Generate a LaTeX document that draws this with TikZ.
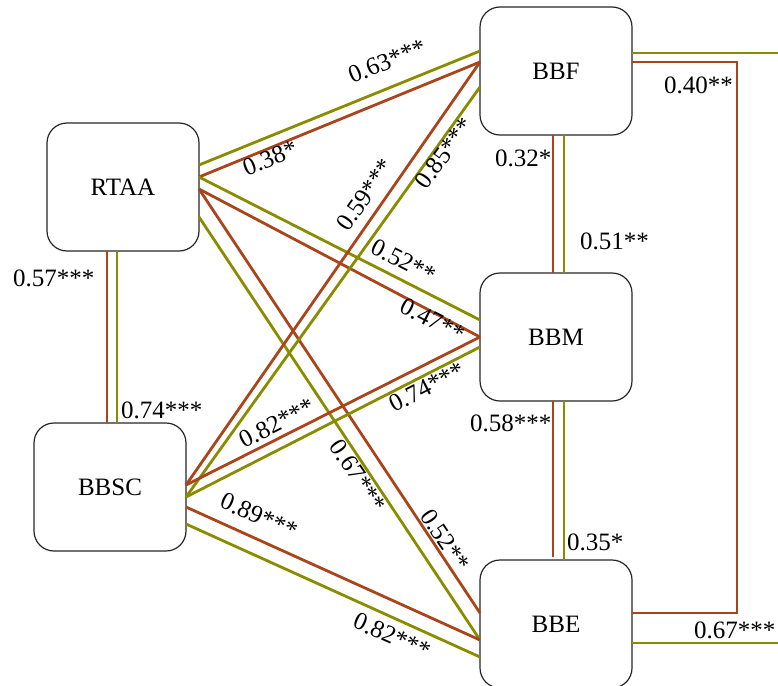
\documentclass[tikz,border=0pt]{standalone}
\usepackage{fontspec}
\setmainfont{Liberation Serif}
\usetikzlibrary{calc}
\definecolor{brn}{RGB}{170,68,26}
\definecolor{olv}{RGB}{138,140,0}
\begin{document}
\begin{tikzpicture}[x=1pt,y=-1pt,
  box/.style={draw=black!85, line width=1.2pt, rounded corners=20pt, minimum width=152pt, minimum height=128pt, inner sep=0pt, outer sep=0pt, fill=white, font=\fontsize{25}{30}\selectfont},
  bl/.style={draw=brn, line width=2.8pt},
  ol/.style={draw=olv, line width=2.8pt},
  lab/.style={font=\fontsize{25}{29}\selectfont, inner sep=0pt},
]
\useasboundingbox (0,0) rectangle (778,685);
% boxes
\node[box] (RTAA) at (123,187) {RTAA};
\node[box] (BBSC) at (110,487) {BBSC};
\node[box] (BBF) at (556,71) {BBF};
\node[box] (BBM) at (556,337) {BBM};
\node[box] (BBE) at (556,624) {BBE};
% diagonal connectors
\draw[ol] ($(RTAA.east)+(0,-22)$) -- ($(BBF.west)+(0,-20)$);
\draw[bl] ($(RTAA.east)+(0,-10)$) -- ($(BBF.west)+(0,-9)$);
\draw[ol] ($(RTAA.east)+(0,-10)$) -- ($(BBM.west)+(0,-17)$);
\draw[bl] ($(RTAA.east)+(0,2)$) -- (BBM.west);
\draw[bl] ($(RTAA.east)+(0,2)$) -- ($(BBE.west)+(0,-11)$);
\draw[ol] ($(RTAA.east)+(0,30)$) -- ($(BBE.west)+(0,16)$);
\draw[bl] ($(BBSC.east)+(0,-2)$) -- ($(BBF.west)+(0,-9)$);
\draw[ol] ($(BBSC.east)+(0,10)$) -- ($(BBF.west)+(0,16)$);
\draw[bl] ($(BBSC.east)+(0,-2)$) -- (BBM.west);
\draw[ol] ($(BBSC.east)+(0,10)$) -- ($(BBM.west)+(0,10)$);
\draw[bl] ($(BBSC.east)+(0,20)$) -- ($(BBE.west)+(0,16)$);
\draw[ol] ($(BBSC.east)+(0,37)$) -- ($(BBE.west)+(0,33)$);
% vertical connectors
\draw[bl] ($(RTAA.south)+(-16,0)$) -- ($(BBSC.north)+(-3,0)$);
\draw[ol] ($(RTAA.south)+(-6,0)$) -- ($(BBSC.north)+(7,0)$);
\draw[bl] ($(BBF.south)+(-3,0)$) -- ($(BBM.north)+(-3,0)$);
\draw[ol] ($(BBF.south)+(8,0)$) -- ($(BBM.north)+(8,0)$);
\draw[bl] ($(BBM.south)+(-3,0)$) -- ($(BBE.north)+(-3,-3)$);
\draw[ol] ($(BBM.south)+(8,0)$) -- ($(BBE.north)+(8,0)$);
% right-hand connectors
\coordinate (E1) at (780,53);
\coordinate (E2) at (780,643);
\draw[ol] ($(BBF.east)+(0,-18)$) -- (E1);
\draw[bl] ($(BBF.east)+(0,-9)$) -| ($(BBE.east)+(105,-11)$) -- ($(BBE.east)+(0,-11)$);
\draw[ol] ($(BBE.east)+(0,19)$) -- (E2);
% rotated labels
\node[lab, rotate=22] (l063) at (387,61) {0.63***};
\node[lab, rotate=22] (l038) at (270,158) {0.38*};
\node[lab, rotate=55] (l059) at (365,195) {0.59***};
\node[lab, rotate=54] (l085) at (444,153) {0.85***};
\node[lab, rotate=-27] (l052a) at (404,261) {0.52**};
\node[lab, rotate=-27] (l047) at (433,320) {0.47**};
\node[lab, rotate=27] (l074b) at (427,387) {0.74***};
\node[lab, rotate=27] (l082a) at (277,423) {0.82***};
\node[lab, rotate=-56] (l067a) at (358,476) {0.67***};
\node[lab, rotate=-56] (l052b) at (445,540) {0.52**};
\node[lab, rotate=-24] (l089) at (259,516) {0.89***};
\node[lab, rotate=-24] (l082b) at (392,636) {0.82***};
% straight labels
\node[lab, anchor=base west] (l057) at (13,286) {0.57***};
\node[lab, anchor=base west] (l074a) at (121,418) {0.74***};
\node[lab, anchor=base west] (l032) at (495,166) {0.32*};
\node[lab, anchor=base west] (l051) at (580,249) {0.51**};
\node[lab, anchor=base west] (l040) at (664,93) {0.40**};
\node[lab, anchor=base west] (l058) at (470,431) {0.58***};
\node[lab, anchor=base west] (l035) at (567,550) {0.35*};
\node[lab, anchor=base west] (l067b) at (694,638) {0.67***};
\end{tikzpicture}
\end{document}
